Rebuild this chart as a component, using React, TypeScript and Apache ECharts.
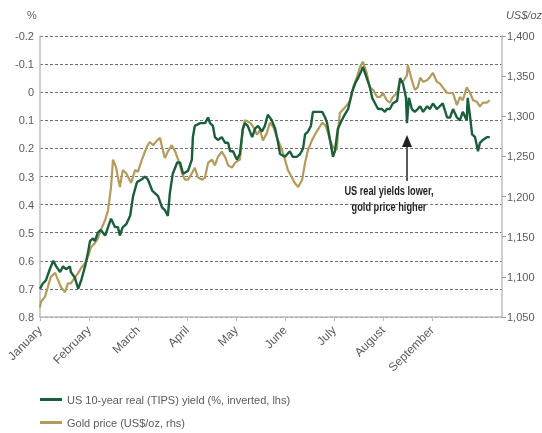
import React, { useEffect, useRef } from "react";
import * as echarts from "echarts";

const months = ["January", "February", "March", "April", "May", "June", "July", "August", "September"];
const leftTicks = [-0.2, -0.1, 0, 0.1, 0.2, 0.3, 0.4, 0.5, 0.6, 0.7, 0.8];
const rightTicks = [1050, 1100, 1150, 1200, 1250, 1300, 1350, 1400];

const tipsName = "US 10-year real (TIPS) yield (%, inverted, lhs)";
const goldName = "Gold price (US$/oz, rhs)";

// position in months since 1 January
const tipsPos = [
  0.0, 0.06, 0.12, 0.2, 0.27, 0.33, 0.41, 0.47, 0.53, 0.61, 0.63, 0.71, 0.78, 0.84, 0.92, 0.98,
  1.02, 1.08, 1.12, 1.18, 1.24, 1.33, 1.39, 1.45, 1.53, 1.59, 1.63, 1.69, 1.76, 1.84, 1.9, 1.98,
  2.08, 2.14, 2.2, 2.29, 2.35, 2.41, 2.49, 2.55, 2.61, 2.65, 2.71, 2.8, 2.86, 2.92,
  3.02, 3.1, 3.12, 3.16, 3.27, 3.37, 3.43, 3.47, 3.53, 3.57, 3.63, 3.71, 3.78, 3.84, 3.88, 3.94,
  4.02, 4.08, 4.14, 4.18, 4.24, 4.33, 4.39, 4.45, 4.53, 4.59, 4.65, 4.73, 4.8, 4.86, 4.9,
  5.0, 5.1, 5.16, 5.24, 5.31, 5.37, 5.41, 5.47, 5.53, 5.57, 5.67, 5.76, 5.82, 5.86, 5.92, 5.98,
  6.02, 6.08, 6.16, 6.22, 6.29, 6.37, 6.43, 6.49, 6.57, 6.59, 6.67, 6.73, 6.78, 6.84, 6.9, 6.98,
  7.04, 7.08, 7.14, 7.2, 7.29, 7.35, 7.41, 7.47, 7.49, 7.53, 7.59, 7.65, 7.71, 7.76, 7.82, 7.9, 7.96,
  8.02, 8.1, 8.16, 8.22, 8.31, 8.37, 8.43, 8.51, 8.57, 8.63, 8.71, 8.73, 8.78, 8.82, 8.88, 8.94, 8.98,
  9.04, 9.12, 9.18,
];
const tipsYield = [
  0.7, 0.68, 0.67, 0.63, 0.6, 0.62, 0.64, 0.62, 0.63, 0.62, 0.64, 0.66, 0.7, 0.67, 0.62, 0.57,
  0.53, 0.52, 0.53, 0.5, 0.49, 0.51, 0.48, 0.45, 0.48, 0.48, 0.51, 0.48, 0.47, 0.44, 0.37, 0.32,
  0.31, 0.3, 0.31, 0.35, 0.36, 0.37, 0.41, 0.42, 0.44, 0.36, 0.29, 0.25, 0.25, 0.29,
  0.28, 0.24, 0.16, 0.12, 0.11, 0.11, 0.09, 0.11, 0.12, 0.16, 0.17, 0.16, 0.18, 0.18, 0.21, 0.21,
  0.24, 0.22, 0.13, 0.11, 0.12, 0.16, 0.13, 0.12, 0.14, 0.12, 0.08, 0.1, 0.13, 0.18, 0.22,
  0.23, 0.21, 0.23, 0.23, 0.22, 0.2, 0.15, 0.14, 0.12, 0.07, 0.07, 0.07, 0.09, 0.11, 0.17, 0.23,
  0.21, 0.13, 0.1, 0.08, 0.06, 0.0, -0.03, -0.05, -0.08, -0.09, -0.05, -0.02, 0.02, 0.04, 0.06, 0.06,
  0.07, 0.06, 0.06, 0.04, 0.03, -0.05, -0.03, 0.02, 0.11, 0.02, 0.06, 0.07, 0.06, 0.05, 0.07, 0.05, 0.06,
  0.04, 0.06, 0.05, 0.04, 0.09, 0.09, 0.06, 0.09, 0.1, 0.07, 0.1, 0.02, 0.09, 0.15, 0.16, 0.21, 0.18,
  0.17, 0.16, 0.16,
];

const goldPos = [
  0.0, 0.02, 0.1, 0.16, 0.22, 0.31, 0.37, 0.43, 0.51, 0.57, 0.63, 0.71, 0.78, 0.84, 0.92, 0.98,
  1.04, 1.12, 1.18, 1.24, 1.33, 1.39, 1.45, 1.49, 1.55, 1.63, 1.69, 1.76, 1.86, 1.94, 2.0,
  2.08, 2.18, 2.24, 2.31, 2.39, 2.45, 2.49, 2.55, 2.61, 2.69, 2.76, 2.82, 2.9, 2.96,
  3.02, 3.1, 3.16, 3.22, 3.31, 3.37, 3.43, 3.51, 3.57, 3.63, 3.71, 3.78, 3.84, 3.92, 3.98,
  4.08, 4.14, 4.18, 4.29, 4.35, 4.43, 4.49, 4.55, 4.63, 4.69, 4.76, 4.84, 4.94,
  5.0, 5.06, 5.14, 5.2, 5.27, 5.35, 5.41, 5.47, 5.55, 5.61, 5.67, 5.76, 5.82, 5.86, 5.92, 5.98,
  6.06, 6.08, 6.12, 6.18, 6.27, 6.33, 6.39, 6.47, 6.53, 6.59, 6.67, 6.73, 6.8, 6.88, 6.94,
  7.0, 7.08, 7.14, 7.2, 7.29, 7.35, 7.41, 7.49, 7.51, 7.59, 7.65, 7.71, 7.76, 7.82, 7.9, 7.96,
  8.02, 8.1, 8.16, 8.22, 8.31, 8.37, 8.43, 8.51, 8.57, 8.63, 8.71, 8.78, 8.84, 8.92, 8.98,
  9.04, 9.12, 9.18,
];
const goldPrice = [
  1062, 1069, 1075, 1087, 1100, 1105, 1096, 1087, 1081, 1092, 1092, 1099, 1105, 1111, 1117, 1125,
  1137, 1142, 1148, 1158, 1171, 1183, 1212, 1246, 1237, 1212, 1233, 1229, 1217, 1233, 1231,
  1246, 1262, 1268, 1264, 1270, 1273, 1262, 1248, 1256, 1264, 1256, 1246, 1229, 1221,
  1221, 1229, 1236, 1224, 1221, 1224, 1242, 1246, 1239, 1249, 1256, 1249, 1239, 1236, 1242,
  1246, 1283, 1295, 1292, 1287, 1277, 1283, 1270, 1279, 1292, 1287, 1273, 1258,
  1246, 1233, 1224, 1217, 1212, 1221, 1242, 1258, 1270, 1277, 1283, 1292, 1289, 1283, 1270, 1262,
  1258, 1279, 1304, 1308, 1314, 1320, 1336, 1349, 1361, 1368, 1354, 1336, 1333, 1324, 1324,
  1329, 1320, 1317, 1324, 1329, 1345, 1343, 1351, 1364, 1345, 1333, 1336, 1348, 1343, 1345, 1349,
  1354, 1343, 1341, 1336, 1329, 1329, 1329, 1314, 1324, 1320, 1336, 1329, 1320, 1318, 1312,
  1317, 1317, 1320,
];

const GREEN = "#1b5e3b";
const GOLD = "#b39b5e";
const TEXT = "#5a5a5a";

export default function App() {
  const ref = useRef<HTMLDivElement>(null);

  useEffect(() => {
    if (!ref.current) return;
    const chart = echarts.init(ref.current, undefined, { renderer: "svg" });
    const tipsData = tipsPos.map((p, i) => [p, tipsYield[i]]);
    const goldData = goldPos.map((p, i) => [p, goldPrice[i]]);
    const font = "'Liberation Sans', Arial, sans-serif";
    const legendCommon = {
      orient: "horizontal",
      left: 40,
      padding: 0,
      itemWidth: 22,
      itemHeight: 3,
      icon: "rect",
      textStyle: { color: TEXT, fontSize: 11, fontFamily: font },
    };

    chart.setOption({
      animation: false,
      textStyle: { fontFamily: font },
      grid: { left: 40, right: 40, top: 36, bottom: 116, containLabel: false },
      legend: [
        { ...legendCommon, top: 394, data: [{ name: tipsName, itemStyle: { color: GREEN } }] },
        { ...legendCommon, top: 417, data: [{ name: goldName, itemStyle: { color: GOLD } }] },
      ],
      xAxis: {
        type: "value",
        min: 0,
        max: 9.43,
        interval: 1,
        axisLine: { show: true, onZero: false, lineStyle: { color: "#bdbdbd", width: 1.5 } },
        axisTick: { show: true, length: 4, lineStyle: { color: "#bdbdbd" }, customValues: [0, 1, 2, 3, 4, 5, 6, 7, 8] },
        axisLabel: {
          rotate: 45,
          color: TEXT,
          fontSize: 12,
          margin: 11,
          customValues: [0, 1, 2, 3, 4, 5, 6, 7, 8],
          formatter: (v: number) => months[Math.round(v)] ?? "",
        },
        splitLine: { show: false },
      },
      yAxis: [
        {
          type: "value",
          inverse: true,
          min: -0.2,
          max: 0.8,
          interval: 0.1,
          position: "left",
          axisLine: { show: true, onZero: false, lineStyle: { color: "#bdbdbd", width: 1.5 } },
          axisTick: { show: false },
          axisLabel: {
            color: TEXT,
            fontSize: 11,
            margin: 6,
            formatter: (v: number) => {
              const r = Math.round(v * 10) / 10;
              return r === 0 ? "0" : r.toFixed(1);
            },
          },
          splitLine: { show: true, lineStyle: { color: "#6f6f6f", type: [3, 2], width: 1 } },
        },
        {
          type: "value",
          min: 1050,
          max: 1400,
          interval: 50,
          position: "right",
          axisLine: { show: true, onZero: false, lineStyle: { color: "#bdbdbd", width: 1.5 } },
          axisTick: { show: true, length: 4, inside: false, lineStyle: { color: "#9a9a9a" } },
          axisLabel: {
            color: TEXT,
            fontSize: 11,
            margin: 5,
            formatter: (v: number) => v.toLocaleString("en-US"),
          },
          splitLine: { show: false },
        },
      ],
      graphic: [
        { type: "text", left: 27, top: 9, style: { text: "%", fill: TEXT, font: `11px ${font}` } },
        { type: "text", right: 0, top: 9, style: { text: "US$/oz", fill: TEXT, font: `italic 11px ${font}` } },
        {
          type: "line",
          shape: { x1: 407, y1: 146, x2: 407, y2: 181 },
          style: { stroke: "#222", lineWidth: 1.5 },
        },
        {
          type: "polygon",
          shape: { points: [[407, 135], [402, 147], [412, 147]] },
          style: { fill: "#222" },
        },
        {
          type: "text",
          x: 389,
          y: 183,
          scaleX: 0.77,
          style: {
            text: "US real yields lower,\ngold price higher",
            fill: "#1e1e1e",
            font: `bold 12px ${font}`,
            align: "center",
            lineHeight: 16,
          },
        },
      ],
      series: [
        {
          name: goldName,
          type: "line",
          yAxisIndex: 1,
          data: goldData,
          showSymbol: false,
          lineStyle: { color: GOLD, width: 2.2 },
          itemStyle: { color: GOLD },
          z: 2,
        },
        {
          name: tipsName,
          type: "line",
          yAxisIndex: 0,
          data: tipsData,
          showSymbol: false,
          lineStyle: { color: GREEN, width: 2.4 },
          itemStyle: { color: GREEN },
          z: 3,
        },
      ],
    });
    return () => chart.dispose();
  }, []);

  return <div ref={ref} style={{ position: "fixed", left: 0, top: 0, width: 542, height: 433 }} />;
}
